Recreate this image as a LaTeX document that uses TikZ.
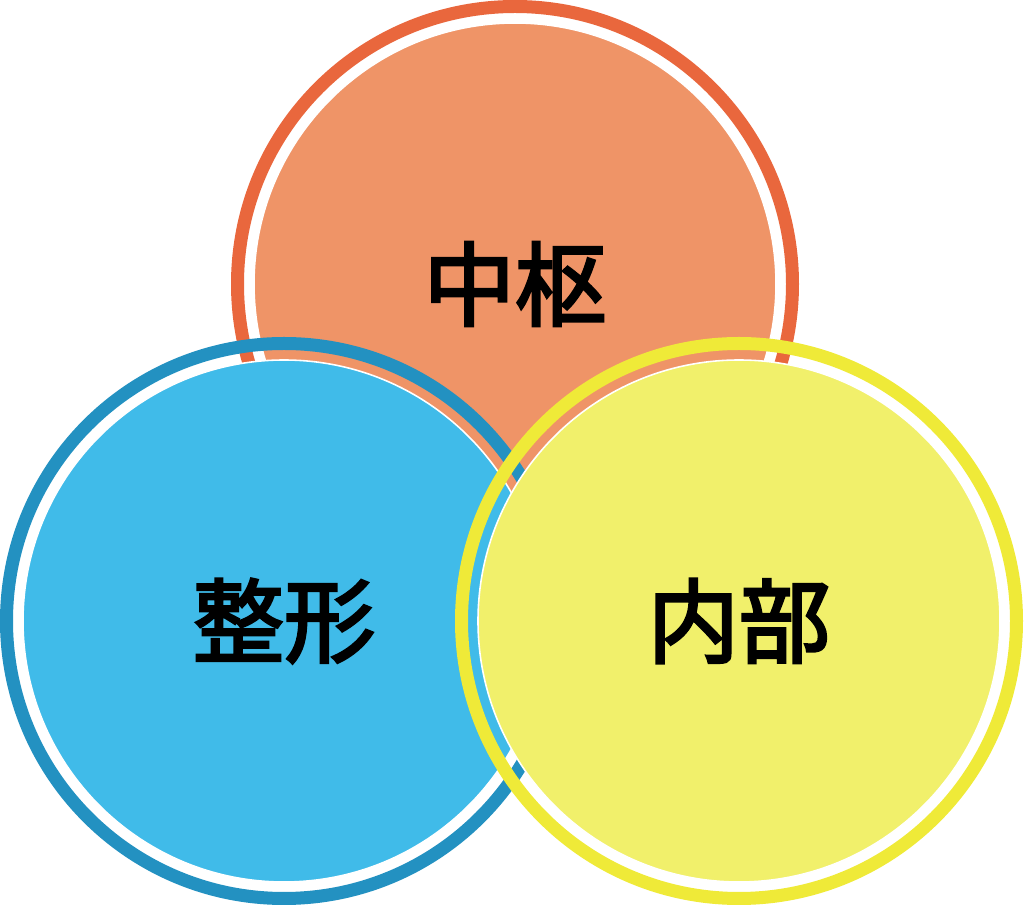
\documentclass[tikz,border=0pt]{standalone}
\usepackage{fontspec}
\newfontfamily\cjk{Noto Sans CJK JP}[FakeBold=3]
\definecolor{orangering}{HTML}{E9673D}
\definecolor{orangefill}{HTML}{EF9467}
\definecolor{bluering}{HTML}{2391C1}
\definecolor{bluefill}{HTML}{40BBE9}
\definecolor{yellowring}{HTML}{EFEA38}
\definecolor{yellowfill}{HTML}{F1F06B}
\tikzset{
  ring/.style={draw=#1,circle,line width=0.26cm,minimum size=11.1cm,inner sep=0pt},
  disk/.style={fill=#1,draw=white,circle,line width=0.9pt,minimum size=10.44cm,inner sep=0pt,
    font=\cjk\fontsize{52}{60}\selectfont}
}
\begin{document}
\begin{tikzpicture}
  \useasboundingbox (0,0) rectangle (20.48,-18.14);
  % top
  \node[ring=orangering] (ctrring) at (10.30,-5.68) {};
  \node[disk=orangefill] (ctr) at (ctrring.center) {中枢};
  % left
  \node[ring=bluering] (shpring) at (5.68,-12.42) {};
  \node[disk=bluefill] (shp) at (shpring.center) {整形};
  % right
  \node[ring=yellowring] (inrring) at (14.78,-12.42) {};
  \node[disk=yellowfill] (inr) at (inrring.center) {内部};
\end{tikzpicture}
\end{document}
